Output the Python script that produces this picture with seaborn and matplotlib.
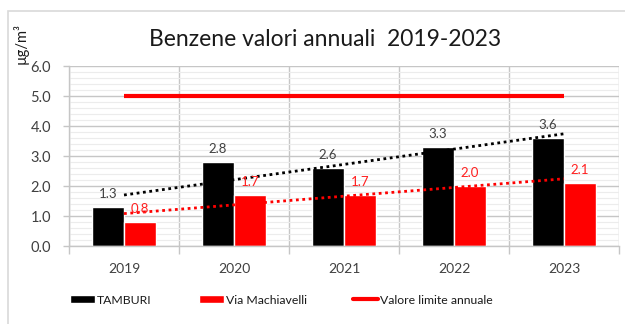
import numpy as np
import pandas as pd
import matplotlib
matplotlib.use("Agg")
import matplotlib.pyplot as plt
from matplotlib.patches import Rectangle, Patch
from matplotlib.lines import Line2D
from matplotlib.ticker import MultipleLocator, FixedLocator, FormatStrFormatter
import seaborn as sns

# Annual benzene means (µg/m³)
anni = ["2019", "2020", "2021", "2022", "2023"]
tamburi = [1.3, 2.8, 2.6, 3.3, 3.6]
machiavelli = [0.8, 1.7, 1.7, 2.0, 2.1]
limite = 5.0
stazioni = ["TAMBURI", "Via Machiavelli"]
colori = ["#000000", "#ff0000"]

df = pd.DataFrame({
    "anno": anni * 2,
    "valore": tamburi + machiavelli,
    "stazione": [stazioni[0]] * len(anni) + [stazioni[1]] * len(anni),
})

sns.set_theme(style="white")
plt.rcParams["font.family"] = ["Lato", "DejaVu Sans"]

fig = plt.figure(figsize=(6.25, 3.24), dpi=100)
ax = fig.add_axes([69 / 625, 1 - 246 / 324, 550 / 625, 180 / 324])

sns.barplot(data=df, x="anno", y="valore", hue="stazione", palette=colori,
            width=0.58, dodge=True, ax=ax, legend=False, saturation=1)

xs = np.arange(len(anni))

# annual limit value
ax.plot([xs[0], xs[-1]], [limite, limite], color="#ff0000", lw=3, solid_capstyle="butt", zorder=4)

# linear trends
for serie, col in [(tamburi, "#000000"), (machiavelli, "#ff0000")]:
    k, q = np.polyfit(xs, serie, 1)
    ax.plot(xs, k * xs + q, color=col, lw=2, linestyle=(0, (1, 1.3)), zorder=5)

# value labels
off = 0.145
for i, (a, b) in enumerate(zip(tamburi, machiavelli)):
    ax.text(i - off, a + 0.22, f"{a:.1f}", ha="center", va="bottom", fontsize=9.5, color="#404040", zorder=6)
    ax.text(i + off, b + 0.22, f"{b:.1f}", ha="center", va="bottom", fontsize=9.5, color="#ff2020", zorder=6)

ax.set_xlim(-0.5, 4.5)
ax.set_ylim(0, 6)
ax.yaxis.set_major_locator(MultipleLocator(1))
ax.yaxis.set_minor_locator(MultipleLocator(0.2))
ax.yaxis.set_major_formatter(FormatStrFormatter("%.1f"))
ax.xaxis.set_minor_locator(FixedLocator(np.arange(-0.5, 5, 1)))
ax.set_axisbelow(True)
ax.yaxis.grid(True, which="minor", color="#ececec", lw=0.8)
ax.yaxis.grid(True, which="major", color="#c6c6c6", lw=1)
ax.xaxis.grid(True, which="minor", color="#c6c6c6", lw=1)
ax.xaxis.grid(False, which="major")
ax.tick_params(axis="x", which="major", length=0, pad=12, labelsize=10, labelcolor="#404040")
ax.tick_params(axis="x", which="minor", length=6, color="#c6c6c6", width=1, bottom=True)
ax.tick_params(axis="y", which="major", length=4, color="#c6c6c6", width=1, left=True, pad=9, labelsize=10.5, labelcolor="#404040")
ax.tick_params(axis="y", which="minor", length=0)
for s in ["top", "right"]:
    ax.spines[s].set_visible(False)
for s in ["left", "bottom"]:
    ax.spines[s].set_color("#c6c6c6")
    ax.spines[s].set_linewidth(1)
ax.set_xlabel("")
ax.set_ylabel("")

fig.text(325 / 625, 1 - 40 / 324, "Benzene valori annuali  2019-2023", ha="center", va="center",
         fontsize=16.5, color="#1a1a1a")
fig.text(21 / 625, 1 - 43 / 324, "µg/m³", rotation=90, ha="center", va="center",
         fontsize=10.5, color="#1a1a1a")

# legend entries, one per slot along the bottom
voci = [
    (Patch(facecolor=colori[0]), stazioni[0], 70),
    (Patch(facecolor=colori[1]), stazioni[1], 199),
    (Line2D([0], [0], color="#ff0000", lw=3), "Valore limite annuale", 353),
]
for handle, label, x0 in voci:
    leg = fig.legend([handle], [label], loc="center left", bbox_to_anchor=(x0 / 625, 1 - 300 / 324),
                     frameon=False, fontsize=8.8, handlelength=2.05, handleheight=0.6,
                     handletextpad=0.15, borderpad=0, borderaxespad=0, labelcolor="#1a1a1a")

# chart area frame
fig.patches.append(Rectangle((8 / 625, -0.5), 2, 0.5 + 1 - 11 / 324, transform=fig.transFigure,
                             fill=False, edgecolor="#d9d9d9", lw=1.2))

fig.savefig("out.png", dpi=100)
